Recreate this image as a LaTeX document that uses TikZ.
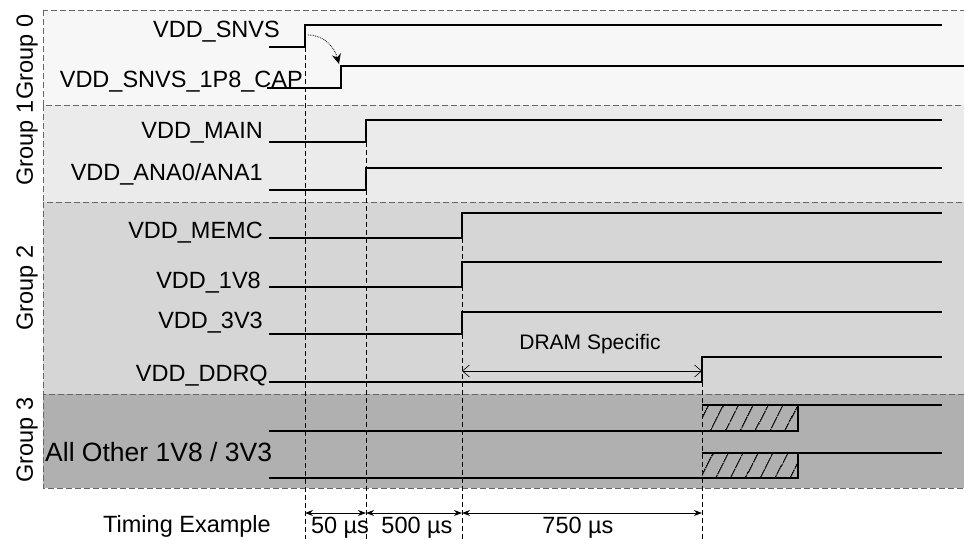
\documentclass[tikz,border=0pt]{standalone}
\usepackage{fontspec}
\setmainfont{Liberation Sans}
\usetikzlibrary{arrows.meta,patterns.meta}

\tikzset{
  sig/.style={line width=1.6pt},
  guide/.style={line width=0.7pt, dash pattern=on 5pt off 3pt},
  grpbox/.style={draw=black!60, line width=0.8pt, dash pattern=on 6pt off 3pt},
  lbl/.style={anchor=base east, inner sep=0pt, font=\fontsize{23.5}{28}\selectfont},
  grplbl/.style={rotate=90, inner sep=0pt, font=\fontsize{23.5}{28}\selectfont},
  tlbl/.style={anchor=base, inner sep=0pt, font=\fontsize{23.5}{28}\selectfont},
  tarrow/.style={line width=0.9pt, {Stealth[length=8pt,width=6pt]}-{Stealth[length=8pt,width=6pt]}},
  hatch/.style={pattern={Lines[angle=63,distance=13pt,line width=1.5pt]}},
}

\begin{document}
\begin{tikzpicture}[x=1pt,y=-1pt]
\useasboundingbox (0,0) rectangle (964,539);
\clip (0,0) rectangle (964,539);

% group bands
\foreach \ya/\yb/\tone in {10/105/3, 105/202/8, 202/394/16, 394/488/31}
  \draw[grpbox, fill=black!\tone] (43,\ya) rectangle (990,\yb);

\node[grplbl] (g0) at (27,57) {Group 0};
\node[grplbl] (g1) at (27,143) {Group 1};
\node[grplbl] (g2) at (27,288) {Group 2};
\node[grplbl] (g3) at (27,440) {Group 3};

% rail steps
\coordinate (snvs) at (305,47);
\coordinate (cap) at (341,88);
\coordinate (main) at (366,142);
\coordinate (ana) at (366,190);
\coordinate (memc) at (462,238);
\coordinate (v18) at (462,287);
\coordinate (v33) at (462,334);
\coordinate (ddrq) at (702,382);
\coordinate (oth1) at (702,431);
\coordinate (oth2) at (702,478);

% guides
\foreach \c in {snvs,main,memc,ddrq}
  \draw[guide] (\c) -- (\c |- 0,539);

% group 0
\draw[sig] (269,47) -- (snvs) -- (305,25) -- (942,25);
\draw[sig] (267,88) -- (cap) -- (341,66) -- (964,66);
\draw[densely dotted, line width=0.8pt, -{Stealth[length=10pt,width=9pt]}] (308,35) to[out=0,in=105] (339,64);
\node[lbl] (l-snvs) at (280,37) {VDD\_SNVS};
\node[lbl] (l-cap) at (303,87) {VDD\_SNVS\_1P8\_CAP};

% group 1
\draw[sig] (269,142) -- (main) -- (366,120) -- (942,120);
\draw[sig] (269,190) -- (ana) -- (366,168) -- (942,168);
\node[lbl] (l-main) at (263,138) {VDD\_MAIN};
\node[lbl] (l-ana) at (263,180) {VDD\_ANA0/ANA1};

% group 2
\draw[sig] (269,238) -- (memc) -- (462,213) -- (942,213);
\draw[sig] (269,287) -- (v18) -- (462,262) -- (942,262);
\draw[sig] (269,334) -- (v33) -- (462,312) -- (942,312);
\draw[sig] (269,382) -- (ddrq) -- (702,357) -- (942,357);
\node[lbl] (l-memc) at (263,238) {VDD\_MEMC};
\node[lbl] (l-v18) at (261,288) {VDD\_1V8};
\node[lbl] (l-v33) at (263,328) {VDD\_3V3};
\node[lbl] (l-ddrq) at (268,381) {VDD\_DDRQ};
\coordinate (dram) at (462,371);
\draw[line width=0.6pt, {Straight Barb[length=7pt,width=12pt]}-{Straight Barb[length=7pt,width=12pt]}] (dram) -- (dram -| ddrq);
\node[anchor=base, inner sep=0pt, font=\fontsize{21}{25}\selectfont] (l-dram) at (590,349) {DRAM Specific};

% group 3
\fill[hatch] (702,405) rectangle (798,431);
\fill[hatch] (702,453) rectangle (798,478);
\draw[sig] (269,431) -- (oth1) -- (798,431) -- (798,405) -- (702,405) -- (942,405);
\draw[sig] (269,478) -- (oth2) -- (798,478) -- (798,453) -- (702,453) -- (942,453);
\node[anchor=base west, inner sep=0pt, font=\fontsize{26.5}{31}\selectfont] (l-oth) at (45,461) {All Other 1V8 / 3V3};

% timing
\coordinate (t0) at (snvs |- 0,513);
\coordinate (t1) at (main |- 0,513);
\coordinate (t2) at (memc |- 0,513);
\coordinate (t3) at (ddrq |- 0,513);
\draw[tarrow] (t0) -- (t1);
\draw[tarrow] (t1) -- (t2);
\draw[tarrow] (t2) -- (t3);
\node[tlbl] (l-time) at (187,532) {Timing Example};
\node[tlbl] (l-t1) at (340,533) {50 µs};
\node[tlbl] (l-t2) at (417,533) {500 µs};
\node[tlbl] (l-t3) at (578,533) {750 µs};
\end{tikzpicture}
\end{document}
